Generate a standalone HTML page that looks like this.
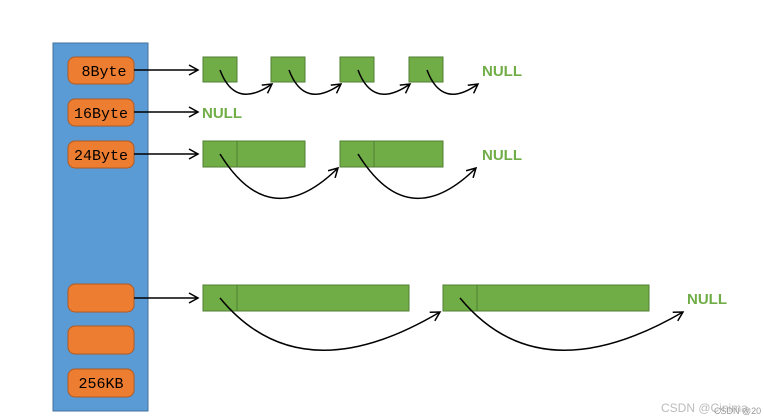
<!DOCTYPE html>
<html><head><style>body{margin:0;background:#fff}svg{display:block}</style></head><body>
<svg width="764" height="420" xmlns="http://www.w3.org/2000/svg">
<defs><marker id="a" markerWidth="12" markerHeight="12" refX="10" refY="6" orient="auto" markerUnits="userSpaceOnUse"><path d="M1,1 L10,6 L1,11" fill="none" stroke="#000" stroke-width="1.5"/></marker></defs>
<rect x="53" y="43" width="95" height="368" fill="#5b9bd5" stroke="#41719c"/>
<g fill="#ed7d31" stroke="#ae5a21">
<rect x="68" y="57" width="66" height="27" rx="7"/>
<rect x="68" y="99" width="66" height="27" rx="7"/>
<rect x="68" y="141" width="66" height="27" rx="7"/>
<rect x="68" y="284" width="66" height="28" rx="7"/>
<rect x="68" y="326" width="66" height="28" rx="7"/>
<rect x="68" y="369" width="66" height="28" rx="7"/>
</g>
<g font-family="Liberation Mono, monospace" font-size="15" text-anchor="middle" fill="#000">
<text x="104" y="76">8Byte</text><text x="101" y="118">16Byte</text><text x="101" y="160">24Byte</text><text x="101" y="388">256KB</text>
</g>
<g stroke="#000" stroke-width="1.5" fill="none" marker-end="url(#a)">
<line x1="134" y1="70" x2="198" y2="70"/><line x1="134" y1="112" x2="198" y2="112"/><line x1="134" y1="154" x2="198" y2="154"/><line x1="134" y1="298" x2="198" y2="298"/>
</g>
<g fill="#70ad47" stroke="#507e32">
<rect x="203" y="57" width="34" height="25"/><rect x="271" y="57" width="34" height="25"/><rect x="340" y="57" width="34" height="25"/><rect x="409" y="57" width="34" height="25"/>
<rect x="203" y="141" width="102" height="26"/><rect x="340" y="141" width="103" height="26"/>
<rect x="203" y="285" width="206" height="26"/><rect x="443" y="285" width="206" height="26"/>
</g>
<g stroke="#507e32"><line x1="237" y1="141" x2="237" y2="167"/><line x1="374" y1="141" x2="374" y2="167"/><line x1="237" y1="285" x2="237" y2="311"/><line x1="477" y1="285" x2="477" y2="311"/></g>
<g stroke="#000" stroke-width="1.5" fill="none" marker-end="url(#a)">
<path d="M220,70 Q235,110 272,84"/><path d="M289,70 Q304,110 341,84"/><path d="M358,70 Q373,110 410,84"/><path d="M427,70 Q442,110 478,84"/>
<path d="M220,154 Q270,235 338,168"/><path d="M358,154 Q408,235 476,168"/>
<path d="M220,298 Q300,395 440,312"/><path d="M460,298 Q540,395 683,312"/>
</g>
<g font-family="Liberation Sans, sans-serif" font-weight="bold" font-size="15" fill="#70ad47">
<text x="482" y="76">NULL</text><text x="202" y="118">NULL</text><text x="482" y="160">NULL</text><text x="687" y="304">NULL</text>
</g>
<text x="661" y="412" font-family="Liberation Sans, sans-serif" font-size="12" fill="#bbb">CSDN @Cinima</text>
<text x="714" y="414" font-family="Liberation Sans, sans-serif" font-size="9" fill="#999">CSDN @20</text>
</svg>
</body></html>
